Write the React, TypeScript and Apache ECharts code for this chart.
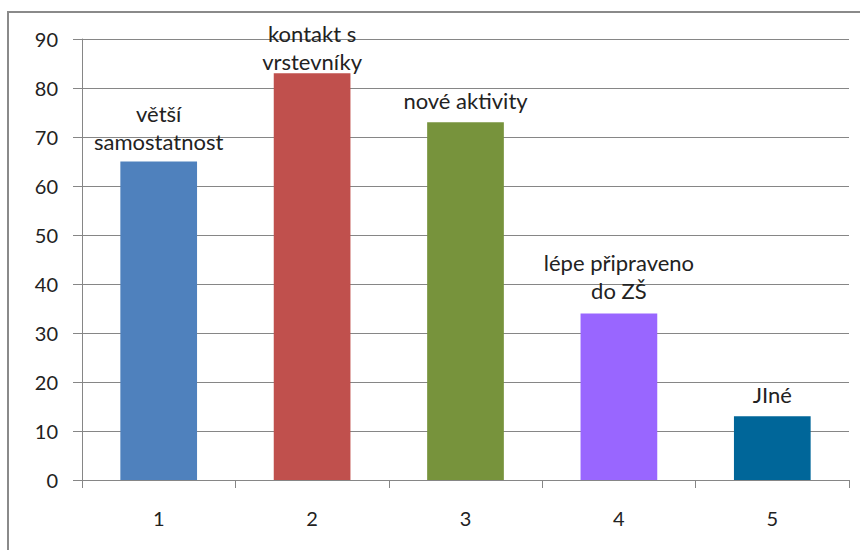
import React, { useEffect, useRef } from "react";
import * as echarts from "echarts";

const categories = ["1", "2", "3", "4", "5"];
const values = [65, 83, 73, 34, 13];
const barLabels = [
  "větší\nsamostatnost",
  "kontakt s\nvrstevníky",
  "nové aktivity",
  "lépe připraveno\ndo ZŠ",
  "JIné",
];
const barColors = ["#4F81BD", "#C0504D", "#77933C", "#9966FF", "#006699"];
const labelDistances = [6, -2, 8, 9, 8];

export default function App() {
  const ref = useRef<HTMLDivElement>(null);
  useEffect(() => {
    if (!ref.current) return;
    const chart = echarts.init(ref.current, null, { renderer: "svg" });
    const axisColor = "#868686";
    chart.setOption({
      animation: false,
      backgroundColor: "#ffffff",
      graphic: [
        {
          type: "rect",
          shape: { x: 8, y: 12, width: 880, height: 580 },
          style: { fill: "none", stroke: "#8a8a8a", lineWidth: 2 },
          silent: true,
        },
      ],
      grid: { left: 82, top: 39, right: 11, bottom: 70, containLabel: false },
      xAxis: {
        type: "category",
        data: categories,
        axisLine: { show: true, lineStyle: { color: axisColor, width: 1 } },
        axisTick: { show: true, length: 8, lineStyle: { color: axisColor } },
        axisLabel: {
          margin: 28,
          fontFamily: "Lato",
          fontSize: 20,
          color: "#222",
        },
      },
      yAxis: {
        type: "value",
        min: 0,
        max: 90,
        interval: 10,
        axisLine: { show: true, lineStyle: { color: axisColor, width: 1 } },
        axisTick: { show: true, length: 9, lineStyle: { color: axisColor } },
        axisLabel: {
          margin: 24,
          fontFamily: "Lato",
          fontSize: 20,
          color: "#222",
        },
        splitLine: { show: true, lineStyle: { color: axisColor, width: 1 } },
      },
      series: [
        {
          type: "bar",
          barWidth: "50%",
          data: values.map((v, i) => ({
            value: v,
            itemStyle: { color: barColors[i] },
            label: {
              show: true,
              position: "top",
              distance: labelDistances[i],
              formatter: barLabels[i],
              fontFamily: "Lato",
              fontSize: 22,
              lineHeight: 28,
              color: "#222",
              align: "center",
            },
          })),
        },
      ],
    });
    return () => chart.dispose();
  }, []);
  return (
    <div
      ref={ref}
      style={{ position: "fixed", left: 0, top: 0, width: 860, height: 550 }}
    />
  );
}
